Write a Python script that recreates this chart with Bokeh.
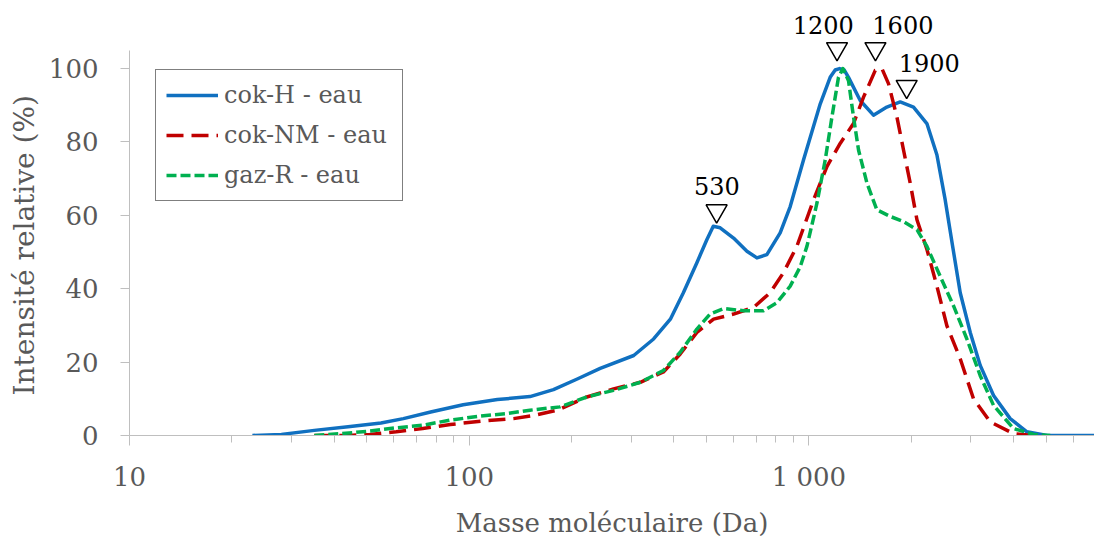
from bokeh.plotting import figure
from bokeh.models import (FixedTicker, CustomJSTickFormatter, Legend, LegendItem,
                          Range1d, Title)
from bokeh.embed import file_html
from bokeh.resources import INLINE
from bokeh.core.properties import value

# ---------------- data ----------------
series_names = ["cok-H - eau", "cok-NM - eau", "gaz-R - eau"]

mass_h = [23, 28, 35, 44, 55, 64, 77, 96, 121, 151, 177, 208, 243, 305, 349, 391, 427,
          468, 501, 523, 548, 600, 657, 703, 752, 823, 881, 964, 1080, 1155, 1195,
          1231, 1270, 1308, 1416, 1549, 1696, 1857, 2032, 2225, 2381, 2519, 2650,
          2789, 2985, 3194, 3496, 3913, 4383, 5021, 6930]
int_h = [0, 0.3, 1.4, 2.4, 3.4, 4.6, 6.4, 8.4, 9.8, 10.6, 12.5, 15.4, 18.3, 21.8, 26.3,
         31.7, 38.9, 47.1, 53.4, 57.0, 56.6, 53.8, 50.2, 48.4, 49.3, 55.2, 62.4, 75.1,
         90.4, 97.6, 99.6, 100.0, 99.6, 97.6, 91.3, 87.3, 89.5, 90.9, 89.5, 85.0, 76.5,
         64.2, 51.5, 38.9, 28.1, 19.1, 10.9, 4.6, 1.0, 0, 0]

mass_nm = [35, 44, 51, 61, 73, 88, 108, 135, 154, 182, 222, 266, 319, 373, 418, 468,
           524, 600, 687, 769, 842, 922, 1032, 1130, 1236, 1353, 1448, 1568, 1640,
           1715, 1816, 1899, 1987, 2080, 2226, 2381, 2548, 2789, 3052, 3418, 4003, 4584]
int_nm = [0, 0, 0.3, 1.0, 1.9, 3.0, 3.9, 4.6, 5.4, 6.9, 10.5, 12.7, 14.5, 17.3, 22.2,
          28.1, 31.7, 33.1, 34.9, 38.9, 44.4, 51.6, 64.2, 73.3, 79.6, 85.0, 92.2, 99.5,
          100.0, 95.9, 86.8, 77.8, 68.8, 58.8, 50.7, 40.7, 29.9, 20.9, 10.0, 3.7, 0.5, 0]

mass_r = [35, 42, 51, 61, 73, 88, 108, 129, 151, 185, 222, 266, 319, 373, 418, 468, 512,
          561, 642, 735, 805, 881, 943, 987, 1056, 1117, 1169, 1222, 1259, 1308, 1353,
          1400, 1482, 1585, 1735, 1899, 2080, 2226, 2435, 2666, 2918, 3194, 3496, 4003,
          4584, 5133]
int_r = [0, 0.5, 1.2, 2.1, 2.8, 4.2, 5.3, 6.0, 6.9, 7.8, 10.5, 12.3, 14.5, 17.7, 22.7,
         29.0, 33.1, 34.6, 34.0, 34.0, 36.2, 40.7, 46.0, 51.6, 63.3, 75.1, 86.8, 97.6,
         100.0, 96.7, 86.8, 77.8, 68.8, 61.5, 59.7, 58.3, 56.1, 51.5, 43.4, 35.3, 26.3,
         16.3, 8.2, 1.9, 0.3, 0]

# peak annotations
peak_labels = ["530", "1200", "1600", "1900"]
marker_x = [535, 1210, 1570, 1940]
marker_y = [61.2, 105.4, 105.4, 95.1]
label_x = [536, 1102, 1891, 2261]
label_y = [68.1, 112.0, 112.0, 101.4]

x_major = [10, 100, 1000]
x_minor = [20, 30, 40, 50, 60, 70, 80, 90,
           200, 300, 400, 500, 600, 700, 800, 900,
           2000, 3000, 4000, 5000, 6000]
y_ticks = [0, 20, 40, 60, 80, 100]

# ---------------- styling ----------------
FONT = "DejaVu Serif"
GREY = "#595959"
AXIS_GREY = "#BFBFBF"

p = figure(width=1094, height=540, x_axis_type="log",
           x_range=Range1d(10, 6930), y_range=Range1d(0, 115),
           output_backend="svg", toolbar_location=None,
           min_border_left=129, min_border_right=0,
           min_border_top=13, min_border_bottom=103)
p.outline_line_color = None
p.xgrid.visible = False
p.ygrid.visible = False
p.background_fill_color = "white"
p.border_fill_color = "white"

r_h = p.line(mass_h, int_h, line_color="#1070C0", line_width=3.5, line_join="round")
r_nm = p.line(mass_nm, int_nm, line_color="#C00000", line_width=3.5,
              line_dash="17 8", line_join="round")
r_r = p.line(mass_r, int_r, line_color="#00B050", line_width=3.5,
             line_dash="10 4", line_join="round")

p.scatter(marker_x, marker_y, marker="inverted_triangle", size=21,
          fill_color="white", line_color="black", line_width=1.5)
p.text(label_x, label_y, text=peak_labels, text_font=value(FONT),
       text_font_size="24px", text_align="center", text_baseline="alphabetic",
       text_color="black")

# x axis
xa = p.xaxis[0]
xa.ticker = FixedTicker(ticks=x_major, minor_ticks=x_minor)
xa.formatter = CustomJSTickFormatter(code="""
const s = String(Math.round(tick));
return s.replace(/\\B(?=(\\d{3})+(?!\\d))/g, " ");
""")
xa.axis_label = "Masse moléculaire (Da)"
xa.axis_line_color = AXIS_GREY
xa.axis_line_width = 1
xa.major_tick_line_color = AXIS_GREY
xa.minor_tick_line_color = AXIS_GREY
xa.major_tick_in = 0
xa.major_tick_out = 10
xa.minor_tick_in = 0
xa.minor_tick_out = 7
xa.major_label_standoff = 16
xa.major_label_text_font = FONT
xa.major_label_text_font_size = "26px"
xa.major_label_text_color = GREY
xa.axis_label_text_font = FONT
xa.axis_label_text_font_size = "26px"
xa.axis_label_text_font_style = "normal"
xa.axis_label_text_color = GREY
xa.axis_label_standoff = 13

# y axis
ya = p.yaxis[0]
ya.ticker = FixedTicker(ticks=y_ticks, minor_ticks=[])
ya.bounds = (0, 105)
ya.axis_line_color = AXIS_GREY
ya.major_tick_line_color = AXIS_GREY
ya.major_tick_in = 0
ya.major_tick_out = 9
ya.minor_tick_line_color = None
ya.major_label_standoff = 22
ya.major_label_text_font = FONT
ya.major_label_text_font_size = "26px"
ya.major_label_text_color = GREY

ytitle = Title(text="Intensité relative (%)", align="left", offset=40,
               text_font=FONT, text_font_size="28px", text_color=GREY,
               text_font_style="normal")
p.add_layout(ytitle, "left")

legend = Legend(items=[LegendItem(label=series_names[0], renderers=[r_h]),
                       LegendItem(label=series_names[1], renderers=[r_nm]),
                       LegendItem(label=series_names[2], renderers=[r_r])],
                location=(26, 234))
legend.border_line_color = "black"
legend.border_line_width = 1
legend.background_fill_color = "white"
legend.background_fill_alpha = 1
legend.padding = 10
legend.spacing = 10
legend.margin = 0
legend.label_height = 30
legend.glyph_height = 30
legend.glyph_width = 52
legend.label_standoff = 6
legend.label_width = 168
legend.label_text_font = FONT
legend.label_text_font_size = "24px"
legend.label_text_color = GREY
p.add_layout(legend)

open("out.html", "w").write(file_html(p, INLINE))
